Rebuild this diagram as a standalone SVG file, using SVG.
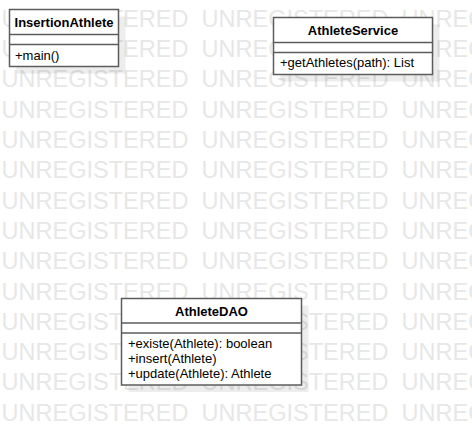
<svg xmlns="http://www.w3.org/2000/svg" width="472" height="425" viewBox="0 0 472 425">
<style>
.wm{font-family:"Liberation Sans",Arial,sans-serif;font-size:23px;fill:#e7e7e7}
.box{fill:#fff;stroke:#5c5c5c;stroke-width:1.5}
.div{stroke:#5c5c5c;stroke-width:1.5}
.shadow{fill:#000;fill-opacity:0.07}
.title{font-family:"Liberation Sans",Arial,sans-serif;font-size:13px;font-weight:bold;fill:#000;text-anchor:middle}
.op{font-family:"Liberation Sans",Arial,sans-serif;font-size:13px;fill:#000}
</style>
<defs>
<g id="wmrow">
<text class="wm" x="1.5" y="0" textLength="187" lengthAdjust="spacingAndGlyphs">UNREGISTERED</text>
<text class="wm" x="201.5" y="0" textLength="187" lengthAdjust="spacingAndGlyphs">UNREGISTERED</text>
<text class="wm" x="401.5" y="0" textLength="187" lengthAdjust="spacingAndGlyphs">UNREGISTERED</text>
</g>
</defs>
<rect width="472" height="425" fill="#fff"/>
<g id="watermark">
<use href="#wmrow" y="26.8"/>
<use href="#wmrow" y="57.1"/>
<use href="#wmrow" y="87.4"/>
<use href="#wmrow" y="117.7"/>
<use href="#wmrow" y="148"/>
<use href="#wmrow" y="178.3"/>
<use href="#wmrow" y="208.6"/>
<use href="#wmrow" y="238.9"/>
<use href="#wmrow" y="269.2"/>
<use href="#wmrow" y="299.5"/>
<use href="#wmrow" y="329.8"/>
<use href="#wmrow" y="360.1"/>
<use href="#wmrow" y="390.4"/>
<use href="#wmrow" y="420.7"/>
</g>
<g id="connectors"></g>
<g id="InsertionAthlete">
<rect class="shadow" x="16.5" y="16.5" width="109" height="57"/>
<rect class="box" x="9.5" y="9.5" width="109" height="57"/>
<line class="div" x1="9.5" y1="34.5" x2="118.5" y2="34.5"/>
<line class="div" x1="9.5" y1="44.5" x2="118.5" y2="44.5"/>
<text class="title" x="64" y="27">InsertionAthlete</text>
<text class="op" x="15" y="59.5">+main()</text>
</g>
<g id="AthleteService">
<rect class="shadow" x="280.5" y="24.5" width="159" height="57"/>
<rect class="box" x="273.5" y="17.5" width="159" height="57"/>
<line class="div" x1="273.5" y1="42.5" x2="432.5" y2="42.5"/>
<line class="div" x1="273.5" y1="52.5" x2="432.5" y2="52.5"/>
<text class="title" x="353" y="35">AthleteService</text>
<text class="op" x="280" y="67">+getAthletes(path): List</text>
</g>
<g id="AthleteDAO">
<rect class="shadow" x="128.5" y="305.5" width="180" height="86.5"/>
<rect class="box" x="121.5" y="298.5" width="180" height="86.5"/>
<line class="div" x1="121.5" y1="323" x2="301.5" y2="323"/>
<line class="div" x1="121.5" y1="333" x2="301.5" y2="333"/>
<text class="title" x="211.5" y="315.5">AthleteDAO</text>
<text class="op" x="128" y="347.5">+existe(Athlete): boolean</text>
<text class="op" x="128" y="362.5">+insert(Athlete)</text>
<text class="op" x="128" y="377.5">+update(Athlete): Athlete</text>
</g>
</svg>
